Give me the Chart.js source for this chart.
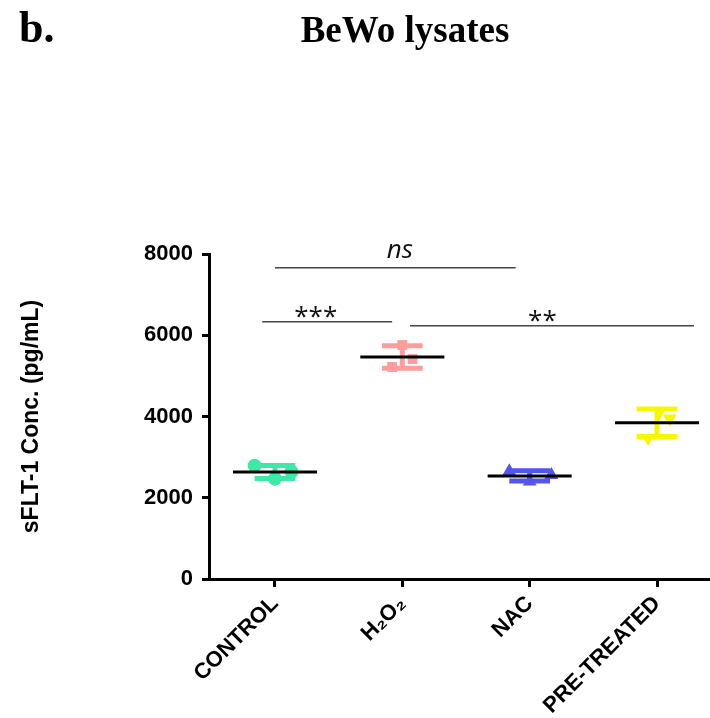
<!DOCTYPE html>
<html>
<head>
<meta charset="utf-8">
<script src="https://cdn.jsdelivr.net/npm/chart.js@4.4.1/dist/chart.umd.min.js"></script>
<style>
  html, body { margin: 0; padding: 0; background: #fff; }
  #wrap { width: 710px; height: 718px; }
</style>
</head>
<body>
<div id="wrap"><canvas id="chart" width="710" height="718"></canvas></div>
<script>
// groups and replicate values (pg/mL)
const categories = ['CONTROL', 'H\u2082O\u2082', 'NAC', 'PRE-TREATED'];
const controlValues = [2790, 2470, 2640];
const h2o2Values = [5760, 5415, 5218];
const nacValues = [2650, 2400, 2560];
const pretreatedValues = [4120, 3950, 3470];
// horizontal scatter of the replicates (category units)
const controlJitter = [-0.16, 0.0, 0.13];
const h2o2Jitter = [0.0, 0.08, -0.08];
const nacJitter = [-0.16, 0.0, 0.17];
const pretreatedJitter = [0.02, 0.1, -0.07];

const yTicks = [0, 2000, 4000, 6000, 8000];

// significance brackets
const sigLabels = ['ns', '***', '**'];
const sigFrom = [0, -0.1, 1.06];
const sigTo = [1.89, 0.92, 3.29];
const sigLevel = [7663, 6334, 6235];
const sigTextX = [0.98, 0.32, 2.1];

const colors = ['#3ee8a6', '#ff9d9d', '#5454ee', '#f7f700'];
const groups = [controlValues, h2o2Values, nacValues, pretreatedValues];
const jitters = [controlJitter, h2o2Jitter, nacJitter, pretreatedJitter];
const styles = ['circle', 'rect', 'triangle', 'triangle'];
const rotations = [0, 0, 0, 180];

function mean(a) { return a.reduce((s, v) => s + v, 0) / a.length; }
function sd(a) {
    const m = mean(a);
    return Math.sqrt(a.reduce((s, v) => s + (v - m) * (v - m), 0) / (a.length - 1));
}

const datasets = groups.map((vals, g) => ({
    label: categories[g],
    data: vals.map((v, i) => ({ x: g + jitters[g][i], y: v })),
    backgroundColor: colors[g],
    borderColor: colors[g],
    pointStyle: styles[g],
    rotation: rotations[g],
    pointRadius: styles[g] === 'triangle' ? 8 : 7,
    pointBorderWidth: 0
}));

const errorBars = {
    id: 'errorBars',
    afterDatasetsDraw(chart) {
        const { ctx, scales: { x, y } } = chart;
        ctx.save();
        groups.forEach((vals, g) => {
            const m = mean(vals), s = sd(vals);
            const cx = x.getPixelForValue(g);
            const capL = x.getPixelForValue(g - 0.16), capR = x.getPixelForValue(g + 0.16);
            const yHi = y.getPixelForValue(m + s), yLo = y.getPixelForValue(m - s);
            ctx.strokeStyle = colors[g];
            ctx.lineWidth = 5;
            ctx.beginPath();
            ctx.moveTo(cx, yHi); ctx.lineTo(cx, yLo);
            ctx.moveTo(capL, yHi); ctx.lineTo(capR, yHi);
            ctx.moveTo(capL, yLo); ctx.lineTo(capR, yLo);
            ctx.stroke();
            // mean
            const ym = y.getPixelForValue(m);
            ctx.strokeStyle = '#000';
            ctx.lineWidth = 3;
            ctx.beginPath();
            ctx.moveTo(x.getPixelForValue(g - 0.33), ym);
            ctx.lineTo(x.getPixelForValue(g + 0.33), ym);
            ctx.stroke();
        });
        // significance lines
        sigLabels.forEach((lab, i) => {
            const yy = y.getPixelForValue(sigLevel[i]);
            ctx.strokeStyle = '#444';
            ctx.lineWidth = 1.5;
            ctx.beginPath();
            ctx.moveTo(x.getPixelForValue(sigFrom[i]), yy);
            ctx.lineTo(x.getPixelForValue(sigTo[i]), yy);
            ctx.stroke();
            ctx.fillStyle = '#111';
            ctx.textAlign = 'center';
            ctx.textBaseline = 'alphabetic';
            if (lab === 'ns') {
                ctx.font = 'italic 26px "Open Sans"';
                ctx.fillText(lab, x.getPixelForValue(sigTextX[i]), yy - 10);
            } else {
                ctx.font = '26px "Open Sans"';
                ctx.fillText(lab, x.getPixelForValue(sigTextX[i]), yy + 3);
            }
        });
        ctx.restore();
    }
};

const headings = {
    id: 'headings',
    afterDraw(chart) {
        const ctx = chart.ctx;
        ctx.save();
        ctx.fillStyle = '#000';
        ctx.textBaseline = 'alphabetic';
        ctx.font = 'bold 44px "Liberation Serif"';
        ctx.textAlign = 'left';
        ctx.fillText('b.', 19, 42);
        ctx.font = 'bold 37px "Liberation Serif"';
        ctx.textAlign = 'center';
        ctx.fillText('BeWo lysates', 405, 42);
        ctx.restore();
    }
};

new Chart(document.getElementById('chart'), {
    type: 'scatter',
    data: { datasets },
    plugins: [errorBars, headings],
    options: {
        responsive: false,
        animation: false,
        layout: { autoPadding: false, padding: { top: 254, right: 1, left: 0, bottom: 0 } },
        plugins: { legend: { display: false }, tooltip: { enabled: false } },
        scales: {
            x: {
                type: 'linear',
                min: -0.518,
                max: 3.408,
                afterFit: s => { s.height = 139; s.paddingLeft = 0; s.paddingRight = 0; },
                afterBuildTicks: s => { s.ticks = categories.map((c, i) => ({ value: i })); },
                grid: { drawOnChartArea: false, drawTicks: true, tickLength: 8, tickWidth: 3, tickColor: '#000' },
                border: { display: true, color: '#000', width: 3 },
                ticks: {
                    includeBounds: false,
                    autoSkip: false,
                    minRotation: 45,
                    maxRotation: 45,
                    padding: 4,
                    color: '#000',
                    font: { family: '"Liberation Sans", Arial', size: 22, weight: 'bold' },
                    callback: v => categories[v]
                }
            },
            y: {
                min: 0,
                max: 8000,
                afterFit: s => { s.width = 209; s.paddingTop = 0; s.paddingBottom = 0; },
                afterBuildTicks: s => { s.ticks = yTicks.map(v => ({ value: v })); },
                grid: { drawOnChartArea: false, drawTicks: true, tickLength: 7, tickWidth: 3, tickColor: '#000' },
                border: { display: true, color: '#000', width: 3 },
                ticks: {
                    padding: 9,
                    color: '#000',
                    font: { family: '"Liberation Sans", Arial', size: 22, weight: 'bold' },
                    callback: v => String(v)
                },
                title: {
                    display: true,
                    text: 'sFLT-1 Conc. (pg/mL)',
                    color: '#000',
                    padding: { top: 18, bottom: 0 },
                    font: { family: '"Liberation Sans", Arial', size: 23, weight: 'bold' }
                }
            }
        }
    }
});
</script>
</body>
</html>
